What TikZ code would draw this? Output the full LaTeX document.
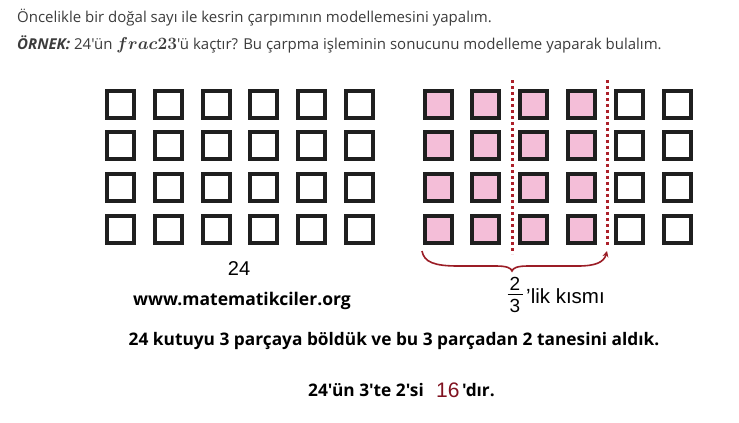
\documentclass[tikz,border=0pt]{standalone}
\usepackage{fontspec}
\setmainfont{Open Sans}
\newfontfamily\arialf{Liberation Sans}
\newfontfamily\osans{Open Sans}
\usetikzlibrary{arrows.meta}
\definecolor{pinkfill}{RGB}{244,190,216}
\definecolor{dotred}{RGB}{172,32,42}
\definecolor{darkred16}{RGB}{128,18,32}
\definecolor{txtgray}{RGB}{60,60,60}
\tikzset{
  box/.style={draw=black!88, line width=4pt, minimum size=27pt, inner sep=0pt, fill=white},
  pbox/.style={box, fill=pinkfill},
  divline/.style={draw=dotred, line width=3pt, dash pattern=on 3pt off 3pt},
  bracec/.style={draw=dotred!90!black, line width=1.6pt},
  toptext/.style={anchor=base west, inner sep=0pt, text=txtgray, font=\osans\fontsize{15}{17}\selectfont},
  boldtext/.style={inner sep=0pt, anchor=base, font=\osans\bfseries\fontsize{17.3}{19}\selectfont},
  ariallbl/.style={inner sep=0pt, font=\arialf\fontsize{20}{22}\selectfont}
}
\begin{document}
\begin{tikzpicture}[x=1pt,y=-1pt]
\useasboundingbox[fill=white] (0,0) rectangle (739,423);
% top lines
\node[toptext] (l1) at (17,23) {Öncelikle bir doğal sayı ile kesrin çarpımının modellemesini yapalım.};
\node[toptext] (l2) at (17,49) {{\bfseries\itshape ÖRNEK:} 24'ün {\fontsize{19}{19}\selectfont\boldmath$frac23$}'ü kaçtır? Bu çarpma işleminin sonucunu modelleme yaparak bulalım.};
% left grid
\foreach \i in {0,...,5}{
  \foreach \j in {0,...,3}{
    \node[box] (L\i\j) at ({120.5+47.8*\i},{104+41.8*\j}) {};
  }
}
% right grid
\foreach \i in {0,...,5}{
  \foreach \j in {0,...,3}{
    \ifnum\i<4
      \node[pbox] (R\i\j) at ({438+47.9*\i},{104+41.8*\j}) {};
    \else
      \node[box] (R\i\j) at ({438+47.9*\i},{104+41.8*\j}) {};
    \fi
  }
}
% dividing dotted lines
\coordinate (d1t) at (512.5,80);
\coordinate (d1b) at (512.5,254);
\coordinate (d2t) at (607,80);
\coordinate (d2b) at (607,246);
\draw[divline] (d1t) -- (d1b);
\draw[divline] (d2t) -- (d2b);
% brace
\coordinate (bl) at (422,251);
\coordinate (bm) at (512,271);
\coordinate (br) at (607,251);
\draw[bracec, -{Stealth[length=6pt,width=6pt]}] (bl) .. controls (424,262) and (434,266) .. (458,266)
  -- (496,266) .. controls (507,266) and (511,268) .. (bm)
  .. controls (513,268) and (517,266) .. (528,266)
  -- (578,266) .. controls (596,266) and (604,262) .. (br);
% labels
\node[ariallbl, anchor=base] (n24) at (239,275) {24};
\node[ariallbl, anchor=base, font=\arialf\fontsize{19}{20}\selectfont] (num) at (515,290) {2};
\node[ariallbl, anchor=base, font=\arialf\fontsize{19}{20}\selectfont] (den) at (515,312) {3};
\draw[line width=1.2pt] (507.5,294.5) -- (522.5,294.5);
\node[ariallbl, anchor=base west, font=\arialf\fontsize{20.5}{22}\selectfont] (lik) at (526,303) {’lik kısmı};
\node[boldtext, font=\osans\bfseries\fontsize{17.5}{19}\selectfont] (web) at (242,305) {www.matematikciler.org};
\node[boldtext] (s1) at (394,345) {24 kutuyu 3 parçaya böldük ve bu 3 parçadan 2 tanesini aldık.};
\node[boldtext, anchor=base west] (s2a) at (308,396) {24'ün 3'te 2'si};
\node[inner sep=0pt, anchor=base west, text=darkred16, font=\arialf\fontsize{21}{22}\selectfont] (s2b) at (436,397) {16};
\node[boldtext, anchor=base west] (s2c) at (462,396) {'dır.};
\end{tikzpicture}
\end{document}
